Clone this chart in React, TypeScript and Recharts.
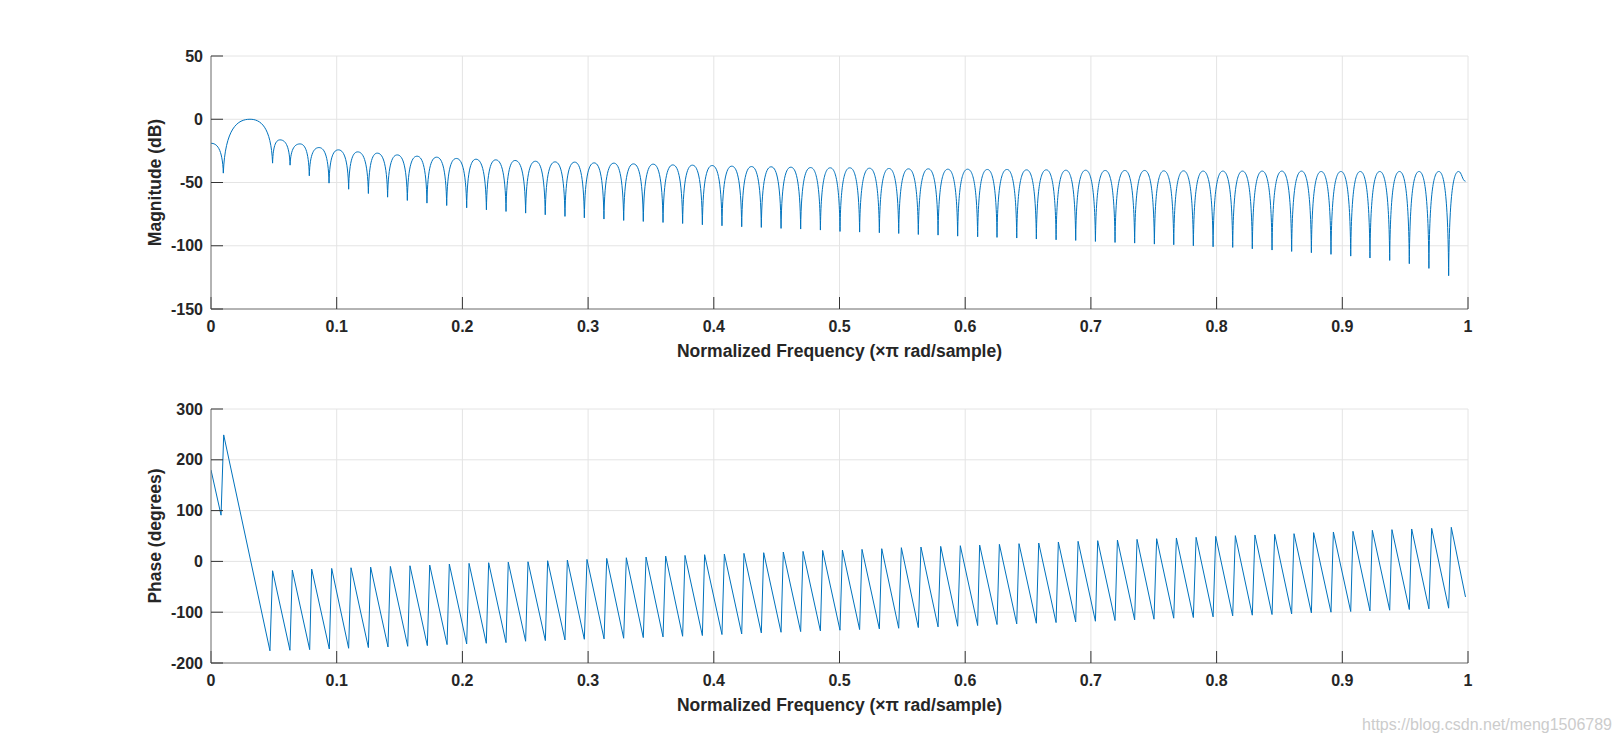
import { LineChart, Line, XAxis, YAxis, CartesianGrid } from 'recharts'

// axis ticks
const freqTicks = [0, 0.1, 0.2, 0.3, 0.4, 0.5, 0.6, 0.7, 0.8, 0.9, 1]
const magTicks = [-150, -100, -50, 0, 50]
const phaseTicks = [-200, -100, 0, 100, 200, 300]

// magnitude response: end points, nulls and lobe peaks
const magEdgeFreq = [0, 0.998]
const magEdgeDb = [-19, -49]
const magNullFreq = [
  0.0098, 0.049, 0.0629, 0.0782, 0.0939, 0.1095, 0.1252, 0.1405, 0.1562, 0.1718, 0.1875, 0.2034, 0.2191, 0.2347,
  0.2503, 0.2659, 0.2816, 0.297, 0.3126, 0.3283, 0.3439, 0.3596, 0.3752, 0.3909, 0.4065, 0.4222, 0.4378, 0.4535,
  0.4691, 0.4848, 0.5004, 0.516, 0.5317, 0.5471, 0.5627, 0.5784, 0.594, 0.6099, 0.6253, 0.641, 0.6566, 0.6723,
  0.6879, 0.7036, 0.7192, 0.7348, 0.7505, 0.7659, 0.7815, 0.7972, 0.8128, 0.8284, 0.8441, 0.8597, 0.8754, 0.891,
  0.9067, 0.922, 0.9377, 0.9533, 0.9689, 0.9846,
]
const magNullDb = [
  -42.6, -34.7, -36.3, -44.7, -50.5, -55.3, -58.7, -61.6, -64.2, -66.3, -68.2, -70, -71.6, -72.9,
  -74.2, -75.5, -76.8, -77.9, -78.9, -80, -80.8, -81.6, -82.4, -83.4, -84.2, -85, -85.5, -86.3,
  -86.8, -87.6, -88.7, -89.2, -89.7, -90.3, -91.1, -91.6, -92.4, -92.9, -93.4, -93.9, -94.7, -95.3,
  -95.8, -96.6, -97.4, -97.9, -98.7, -99.2, -100, -100.8, -101.3, -102.4, -103.4, -104.5, -105.5, -106.8,
  -108.2, -109.7, -111.6, -114.2, -117.9, -123.7,
]
const magPeakFreq = [
  0.031, 0.0549, 0.0708, 0.0859, 0.1013, 0.1167, 0.1323, 0.1482, 0.1639, 0.1795, 0.1952, 0.2108, 0.2265, 0.2419,
  0.2581, 0.2737, 0.2893, 0.3048, 0.3205, 0.3361, 0.3518, 0.3674, 0.383, 0.3987, 0.4143, 0.43, 0.4456, 0.4613,
  0.477, 0.4926, 0.5082, 0.5239, 0.5394, 0.5549, 0.5706, 0.5862, 0.6019, 0.6176, 0.6332, 0.6488, 0.6645, 0.6801,
  0.6958, 0.7114, 0.727, 0.7427, 0.758, 0.7737, 0.7893, 0.805, 0.8206, 0.8363, 0.8519, 0.8676, 0.8832, 0.8989,
  0.9143, 0.9298, 0.9455, 0.9611, 0.9768, 0.9925,
]
const magPeakDb = [
  0, -16.3, -19.5, -22.4, -24.2, -25.8, -26.8, -28.2, -29.2, -30, -31, -31.6, -32.1, -32.6,
  -33.2, -33.7, -33.9, -34.5, -34.7, -35.3, -35.5, -36.1, -36.3, -36.6, -37.1, -37.4, -37.6, -37.9,
  -38.2, -38.4, -38.4, -38.7, -38.9, -39.2, -39.2, -39.5, -39.5, -39.7, -39.7, -40, -40, -40.3,
  -40.3, -40.5, -40.5, -40.5, -40.8, -40.8, -41, -41, -41, -41, -41, -41, -41.3, -41.3,
  -41.3, -41.3, -41.3, -41.3, -41.3, -41.3,
]

// phase response: end points, and the bottom / top of every wrap jump
const phaseEdgeFreq = [0, 0.998]
const phaseEdgeDeg = [180, -70]
const phaseLowFreq = [
  0.008, 0.0469, 0.0628, 0.0785, 0.0941, 0.1095, 0.1252, 0.1408, 0.1565, 0.1721, 0.1878, 0.2034, 0.219, 0.2347,
  0.2503, 0.266, 0.2816, 0.297, 0.3127, 0.3283, 0.3439, 0.3596, 0.3752, 0.3909, 0.4065, 0.4222, 0.4378, 0.4535,
  0.4691, 0.4848, 0.5004, 0.516, 0.5317, 0.5471, 0.5627, 0.5784, 0.594, 0.6099, 0.6253, 0.641, 0.6566, 0.6723,
  0.6879, 0.7036, 0.7192, 0.7348, 0.7502, 0.7659, 0.7815, 0.7972, 0.8128, 0.8284, 0.8441, 0.8597, 0.8754, 0.891,
  0.9067, 0.922, 0.9377, 0.9533, 0.9689, 0.9846,
]
const phaseLowDeg = [
  91, -176, -175, -173.7, -172.4, -171, -169.7, -168.4, -167.1, -165.8, -163.8, -162.5, -161.2, -159.9,
  -157.2, -155.9, -154.6, -153.3, -152.6, -151.3, -150, -148.7, -147.4, -146, -144, -142.8, -140.8, -139.5,
  -138.2, -136.8, -135.5, -134.2, -132.9, -131.6, -130.3, -128.9, -127.6, -126.3, -124.3, -123, -121.7, -120.4,
  -119.1, -117.8, -116.4, -115.1, -113.8, -111.8, -110.5, -109.2, -107.2, -105.9, -104.6, -103.3, -101.3, -100,
  -98.7, -97.4, -96.1, -94.7, -93.4, -92.1,
]
const phaseHighFreq = [
  0.0101, 0.049, 0.0647, 0.0801, 0.096, 0.1114, 0.127, 0.1427, 0.1583, 0.174, 0.1896, 0.2053, 0.2209, 0.2365,
  0.2522, 0.2678, 0.2835, 0.2991, 0.3148, 0.3304, 0.3461, 0.3617, 0.3771, 0.3927, 0.4084, 0.424, 0.4397, 0.4553,
  0.471, 0.4866, 0.5023, 0.5179, 0.5336, 0.5492, 0.5648, 0.5805, 0.5961, 0.6115, 0.6272, 0.6428, 0.6585, 0.6741,
  0.6898, 0.7054, 0.7211, 0.7367, 0.7523, 0.768, 0.7837, 0.7993, 0.8149, 0.8305, 0.8462, 0.8616, 0.8772, 0.8929,
  0.9085, 0.9239, 0.9395, 0.9552, 0.9711, 0.9867,
]
const phaseHighDeg = [
  249, -18.4, -17.1, -15.1, -13.8, -12.5, -11.2, -9.9, -8.6, -7.2, -5.3, -3.9, -2.6, -1.5,
  -0.7, 1.3, 2.6, 3.9, 5.9, 7.2, 8.6, 10.5, 11.8, 13.2, 14.5, 15.8, 17.1, 18.4,
  19.7, 21.7, 22.4, 23.7, 25, 27, 28.3, 29.6, 30.9, 32.2, 33.6, 34.9, 36.2, 38.2,
  39.5, 40.8, 42.1, 43.4, 44.7, 46.1, 47.4, 49.3, 50.7, 52, 53.3, 54.6, 56.6, 57.9,
  59.2, 61.2, 62.5, 63.8, 65.1, 67.1,
]

const magData = [
  { f: magEdgeFreq[0], v: magEdgeDb[0] },
  ...magNullFreq.flatMap((f, i) => [
    { f, v: magNullDb[i] },
    { f: magPeakFreq[i], v: magPeakDb[i] },
  ]),
  { f: magEdgeFreq[1], v: magEdgeDb[1] },
]

const phaseData = [
  { f: phaseEdgeFreq[0], v: phaseEdgeDeg[0] },
  ...phaseLowFreq.flatMap((f, i) => [
    { f, v: phaseLowDeg[i] },
    { f: phaseHighFreq[i], v: phaseHighDeg[i] },
  ]),
  { f: phaseEdgeFreq[1], v: phaseEdgeDeg[1] },
]

// curve factory: narrow cusps at the nulls, round tops on the lobes
function lobeCurve(context: any) {
  let xs: number[] = []
  let ys: number[] = []
  return {
    areaStart() {},
    areaEnd() {},
    lineStart() {
      xs = []
      ys = []
    },
    point(x: number, y: number) {
      xs.push(+x)
      ys.push(+y)
    },
    lineEnd() {
      const n = xs.length
      if (!n) return
      const isNull = (i: number) => i > 0 && i < n - 1 && ys[i] > ys[i - 1] && ys[i] > ys[i + 1]
      context.moveTo(xs[0], ys[0])
      for (let i = 1; i < n; i++) {
        const ax = xs[i - 1], ay = ys[i - 1], bx = xs[i], by = ys[i]
        const dx = bx - ax
        let c1x, c1y, c2x, c2y
        if (isNull(i - 1)) { c1x = ax + 0.07 * dx; c1y = ay + 0.85 * (by - ay) } else { c1x = ax + 0.45 * dx; c1y = ay }
        if (isNull(i)) { c2x = bx - 0.07 * dx; c2y = by + 0.85 * (ay - by) } else { c2x = bx - 0.45 * dx; c2y = by }
        context.bezierCurveTo(c1x, c1y, c2x, c2y, bx, by)
      }
    },
  }
}

const font = '"Liberation Sans", Arial, Helvetica, sans-serif'
const tickStyle = { fill: '#262626', fontSize: 16, fontWeight: 700, fontFamily: font }
const axisStroke = { stroke: '#767676' }
const tickStroke = { stroke: '#333333' }
const gridColor = '#e4e4e4'
const lineColor = '#0072BD'

const yLabel = (text: string) => (props: any) => {
  const vb = props.viewBox || {}
  const cx = 155
  const cy = (vb.y ?? 0) + (vb.height ?? 0) / 2
  return (
    <text
      x={cx}
      y={cy}
      transform={`rotate(-90 ${cx} ${cy})`}
      textAnchor="middle"
      dominantBaseline="central"
      fill="#262626"
      fontSize={17.5}
      fontWeight={700}
      fontFamily={font}
    >
      {text}
    </text>
  )
}

const xLabel = {
  value: 'Normalized Frequency  (×π rad/sample)',
  position: 'insideBottom' as const,
  offset: 12,
  fill: '#262626',
  fontSize: 17.5,
  fontWeight: 700,
  fontFamily: font,
}

function Panel({ data, ticks, domain, label, curve, height, margin }: any) {
  return (
    <LineChart width={1622} height={height} data={data} margin={margin}>
      <CartesianGrid stroke={gridColor} strokeWidth={1} />
      <XAxis
        dataKey="f"
        type="number"
        domain={[0, 1]}
        ticks={freqTicks}
        interval={0}
        allowDataOverflow
        tickFormatter={(v: number) => String(v)}
        height={60}
        tickSize={-12}
        tickMargin={24}
        axisLine={axisStroke}
        tickLine={tickStroke}
        tick={tickStyle}
        label={xLabel}
      />
      <XAxis
        xAxisId="top"
        orientation="top"
        type="number"
        domain={[0, 1]}
        ticks={freqTicks}
        interval={0}
        allowDataOverflow
        height={0}
        tickSize={-12}
        axisLine={axisStroke}
        tickLine={tickStroke}
        tick={false}
      />
      <YAxis
        type="number"
        domain={domain}
        ticks={ticks}
        interval={0}
        allowDataOverflow
        width={211}
        tickSize={-12}
        tickMargin={20}
        axisLine={axisStroke}
        tickLine={tickStroke}
        tick={tickStyle}
        label={yLabel(label)}
      />
      <YAxis
        yAxisId="right"
        orientation="right"
        type="number"
        domain={domain}
        ticks={ticks}
        interval={0}
        allowDataOverflow
        width={0}
        tickSize={-12}
        axisLine={axisStroke}
        tickLine={tickStroke}
        tick={false}
      />
      <Line
        dataKey="v"
        type={curve}
        stroke={lineColor}
        strokeWidth={1}
        dot={false}
        activeDot={false}
        isAnimationActive={false}
      />
    </LineChart>
  )
}

export default function App() {
  return (
    <div style={{ position: 'absolute', left: 0, top: 0, width: 1622, height: 745, background: '#fff', overflow: 'hidden' }}>
      <div style={{ position: 'absolute', left: 0, top: 0 }}>
        <Panel
          data={magData}
          ticks={magTicks}
          domain={[-150, 50]}
          label="Magnitude (dB)"
          curve={lobeCurve}
          height={372}
          margin={{ top: 56, right: 154, bottom: 3, left: 0 }}
        />
      </div>
      <div style={{ position: 'absolute', left: 0, top: 372 }}>
        <Panel
          data={phaseData}
          ticks={phaseTicks}
          domain={[-200, 300]}
          label="Phase (degrees)"
          curve="linear"
          height={373}
          margin={{ top: 37, right: 154, bottom: 22, left: 0 }}
        />
      </div>
      <div
        style={{
          position: 'absolute',
          right: 10,
          top: 716,
          fontFamily: font,
          fontSize: 16,
          color: '#cccccc',
          whiteSpace: 'nowrap',
        }}
      >
        https://blog.csdn.net/meng1506789
      </div>
    </div>
  )
}
